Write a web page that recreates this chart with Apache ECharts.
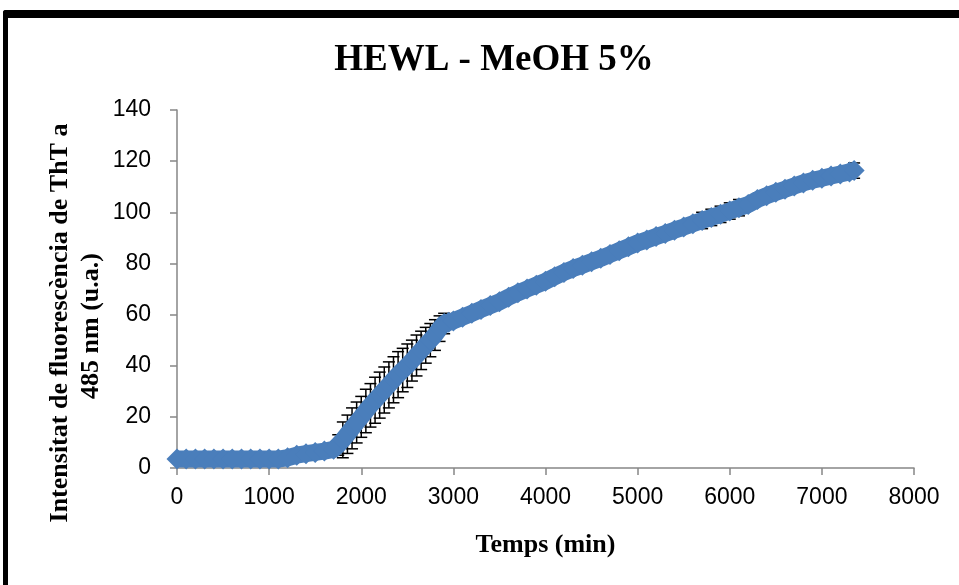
<!DOCTYPE html>
<html>
<head>
<meta charset="utf-8">
<script src="https://cdn.jsdelivr.net/npm/echarts@6/dist/echarts.min.js"></script>
<style>
  html, body { margin: 0; padding: 0; background: #fff; }
  #myChart { width: 959px; height: 585px; }
</style>
</head>
<body>
<div id="myChart"></div>
<script>
// time (min) and ThT fluorescence
const temps = [
  0, 100, 200, 300, 400, 500, 600, 700, 800, 900, 1000, 1100, 1200, 1300, 1400, 1500, 1600, 1700,
  1750, 1800, 1850, 1900, 1950, 2000, 2050, 2100, 2150, 2200, 2250, 2300, 2350, 2400, 2450, 2500,
  2550, 2600, 2650, 2700, 2750, 2800, 2850, 2900, 2950, 3000,
  3100, 3200, 3300, 3400, 3500, 3600, 3700, 3800, 3900, 4000, 4100, 4200, 4300, 4400, 4500,
  4600, 4700, 4800, 4900, 5000, 5100, 5200, 5300, 5400, 5500, 5600, 5700, 5800, 5900, 6000,
  6100, 6200, 6300, 6400, 6500, 6600, 6700, 6800, 6900, 7000, 7100, 7200, 7300, 7350
];
const intensitat = [
  3.5, 3.5, 3.5, 3.5, 3.5, 3.5, 3.5, 3.5, 3.5, 3.5, 3.5, 3.5, 4.0, 5.0, 5.6, 6.1, 6.6, 7.3,
  9.0, 11, 13.2, 15.5, 17.8, 20, 22.3, 24.5, 26.5, 28.5, 30.5, 32.5, 34.5, 36.5, 38.3, 40,
  42, 44, 46, 48, 50, 52, 54.5, 56.5, 57, 57.5,
  59, 60.5, 62, 63.5, 65, 66.8, 68.5, 70, 71.5, 73, 74.8, 76.5, 78, 79.3, 80.7,
  82, 83.5, 85, 86.5, 88, 89.2, 90.5, 91.7, 93, 94.2, 95.5, 96.8, 98, 99.2, 100.5,
  101.8, 103, 105, 106.5, 107.8, 109, 110.3, 111.5, 112.5, 113.3, 114.2, 115, 115.8, 116.3
];
// error bars (± value) at some of the time points
const errTemps = [
  1750, 1800, 1850, 1900, 1950, 2000, 2050, 2100, 2150, 2200, 2250, 2300, 2350, 2400, 2450,
  2500, 2550, 2600, 2650, 2700, 2750, 2800, 2850, 2900, 5700, 5800, 5900, 6000, 6100, 7350
];
const errSize = [
  4, 7, 7.5, 8, 8, 8, 8.5, 8.5, 9, 9, 9, 9, 9, 9, 8.5,
  8.5, 8, 8, 7.5, 7, 6.5, 6, 5, 4, 3.2, 3.2, 3.2, 3.2, 3.2, 3
];
const xTicks = { min: 0, max: 8000, interval: 1000 };
const yTicks = { min: 0, max: 140, interval: 20 };

let myChart = echarts.init(document.getElementById("myChart"));

let points = temps.map(function (t, i) { return [t, intensitat[i]]; });
let errData = errTemps.map(function (t, i) {
  let v = intensitat[temps.indexOf(t)];
  return [t, v - errSize[i], v + errSize[i]];
});

const axisGrey = "#868686";
const serif = "'Liberation Serif', 'DejaVu Serif', serif";

let option = {
  animation: false,
  backgroundColor: "#fff",
  title: {
    text: "HEWL - MeOH 5%",
    left: 489,
    top: 37,
    textAlign: "center",
    textStyle: { fontFamily: serif, fontWeight: "bold", fontSize: 37, color: "#000" },
  },
  grid: { left: 177, right: 45, top: 110, bottom: 117 },
  xAxis: {
    type: "value",
    min: xTicks.min,
    max: xTicks.max,
    interval: xTicks.interval,
    name: "Temps (min)",
    nameLocation: "middle",
    nameGap: 64,
    nameTextStyle: { fontFamily: serif, fontWeight: "bold", fontSize: 26, color: "#000" },
    axisLine: { show: true, lineStyle: { color: axisGrey, width: 1.5 } },
    axisTick: { show: true, inside: false, length: 7, lineStyle: { color: axisGrey, width: 1.5 } },
    axisLabel: {
      margin: 18, fontFamily: "'Liberation Sans', sans-serif", fontSize: 23, color: "#000",
      formatter: function (v) { return String(v); },
    },
    splitLine: { show: false },
  },
  yAxis: {
    type: "value",
    min: yTicks.min,
    max: yTicks.max,
    interval: yTicks.interval,
    axisLine: { show: true, lineStyle: { color: axisGrey, width: 1.5 } },
    axisTick: { show: true, inside: false, length: 7, lineStyle: { color: axisGrey, width: 1.5 } },
    axisLabel: { margin: 26, fontFamily: "'Liberation Sans', sans-serif", fontSize: 23, color: "#000" },
    splitLine: { show: false },
  },
  graphic: [
    // black frame (top and left edges)
    { type: "rect", shape: { x: 3, y: 10, width: 1000, height: 8, r: 3 }, style: { fill: "#000" } },
    { type: "rect", shape: { x: 3, y: 10, width: 5, height: 600, r: 3 }, style: { fill: "#000" } },
    {
      type: "text", x: 60, y: 323, rotation: Math.PI / 2,
      style: {
        text: "Intensitat de fluorescència de ThT a",
        font: "bold 26px " + serif, fill: "#000", align: "center", verticalAlign: "middle",
      },
    },
    {
      type: "text", x: 91, y: 326, rotation: Math.PI / 2,
      style: {
        text: "485 nm (u.a.)",
        font: "bold 26px " + serif, fill: "#000", align: "center", verticalAlign: "middle",
      },
    },
  ],
  series: [
    {
      type: "custom",
      z: 1,
      data: errData,
      renderItem: function (params, api) {
        let top = api.coord([api.value(0), api.value(2)]);
        let bot = api.coord([api.value(0), api.value(1)]);
        let cap = 6;
        let st = { stroke: "#000", lineWidth: 1.5 };
        return {
          type: "group",
          children: [
            { type: "line", shape: { x1: top[0], y1: top[1], x2: bot[0], y2: bot[1] }, style: st },
            { type: "line", shape: { x1: top[0] - cap, y1: top[1], x2: top[0] + cap, y2: top[1] }, style: st },
            { type: "line", shape: { x1: bot[0] - cap, y1: bot[1], x2: bot[0] + cap, y2: bot[1] }, style: st },
          ],
        };
      },
    },
    {
      type: "line",
      z: 3,
      data: points,
      symbol: "diamond",
      symbolSize: 21,
      showSymbol: true,
      showAllSymbol: true,
      itemStyle: { color: "#4a7ebb" },
      lineStyle: { color: "#4a7ebb", width: 17, join: "round" },
    },
  ],
};

myChart.setOption(option);
</script>
</body>
</html>
